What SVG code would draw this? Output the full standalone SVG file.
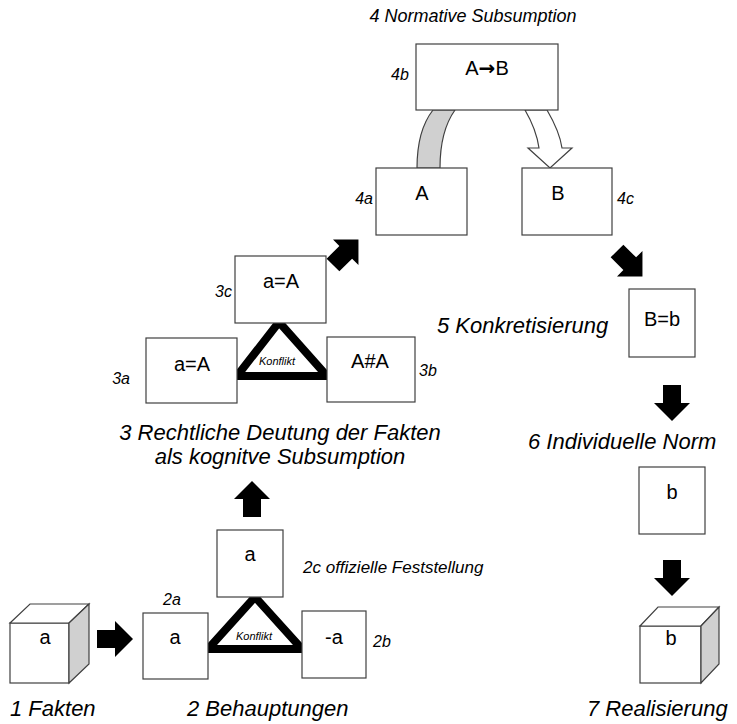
<svg xmlns="http://www.w3.org/2000/svg" xmlns:xlink="http://www.w3.org/1999/xlink" width="737" height="724" viewBox="0 0 737 724">
<defs>
<path id="barrow" d="M0,-9 H18 V-18 L36,0 L18,18 V9 H0 Z" fill="#000"/>
</defs>
<style>
.box{fill:#fff;stroke:#404040;stroke-width:1.2}
.side{fill:#d0d0d0;stroke:#404040;stroke-width:1.2}
.bt{font-family:"Liberation Sans",Arial,sans-serif;font-size:20px;fill:#000;text-anchor:middle}
.cap{font-family:"Liberation Sans",Arial,sans-serif;font-size:22px;font-style:italic;fill:#000}
.lbl{font-family:"Liberation Sans",Arial,sans-serif;font-size:16px;font-style:italic;fill:#000}
.kon{font-family:"Liberation Sans",Arial,sans-serif;font-size:11px;font-style:italic;fill:#000;text-anchor:middle}
.tri{fill:#fff;stroke:#000;stroke-width:8;stroke-linejoin:miter}
</style>
<rect width="737" height="724" fill="#fff"/>

<g id="connectors">
<use xlink:href="#barrow" href="#barrow" transform="translate(97,639)"/>
<use xlink:href="#barrow" href="#barrow" transform="translate(252,517) rotate(-90)"/>
<use xlink:href="#barrow" href="#barrow" transform="translate(333,265) rotate(-45)"/>
<use xlink:href="#barrow" href="#barrow" transform="translate(617,251) rotate(45)"/>
<use xlink:href="#barrow" href="#barrow" transform="translate(672,385) rotate(90)"/>
<use xlink:href="#barrow" href="#barrow" transform="translate(672,560) rotate(90)"/>
<path d="M417,168 C417,142 422,124 433,110 L455,110 C445,124 440,142 440,168 Z" class="side"/>
<path d="M525,110 C532,122 537,134 539,148 L528,148 L550,168 L572,148 L562,148 C560,134 554,122 547,110 Z" class="box"/>
<path class="tri" d="M208,649 L302,649 L255,597 Z"/>
<path class="tri" d="M237,376 L327,376 L279,322 Z"/>
</g>

<text x="473" y="22" class="cap" style="font-size:18px" text-anchor="middle">4 Normative Subsumption</text>

<g id="n4b">
<rect x="416" y="44" width="142" height="66" class="box"/>
<text x="487" y="75" class="bt">A<tspan style="font-family:'DejaVu Sans',sans-serif;font-weight:bold">→</tspan>B</text>
<text x="400" y="80" class="lbl" text-anchor="middle">4b</text>
</g>
<g id="n4a">
<rect x="376" y="168" width="91" height="67" class="box"/>
<text x="422" y="200" class="bt">A</text>
<text x="373" y="204" class="lbl" text-anchor="end">4a</text>
</g>
<g id="n4c">
<rect x="522" y="168" width="90" height="67" class="box"/>
<text x="558" y="200" class="bt">B</text>
<text x="617" y="204" class="lbl">4c</text>
</g>

<g id="n3c">
<rect x="235" y="256" width="91" height="67" class="box"/>
<text x="281" y="288" class="bt">a=A</text>
<text x="232" y="297" class="lbl" text-anchor="end">3c</text>
</g>
<g id="n3a">
<rect x="146" y="338" width="91" height="65" class="box"/>
<text x="192" y="371" class="bt">a=A</text>
<text x="130" y="384" class="lbl" text-anchor="end">3a</text>
</g>
<g id="n3b">
<rect x="327" y="337" width="88" height="65" class="box"/>
<text x="370" y="368" class="bt">A#A</text>
<text x="419" y="376" class="lbl">3b</text>
</g>
<text x="277" y="365" class="kon">Konflikt</text>

<text x="280" y="440" class="cap" text-anchor="middle">3 Rechtliche Deutung der Fakten</text>
<text x="280" y="464" class="cap" text-anchor="middle">als kognitve Subsumption</text>

<g id="n2c">
<rect x="217" y="530" width="66" height="67" class="box"/>
<text x="250" y="561" class="bt">a</text>
<text x="303" y="573" class="lbl" style="font-size:17px">2c offizielle Feststellung</text>
</g>
<g id="n2a">
<rect x="143" y="613" width="65" height="66" class="box"/>
<text x="175" y="644" class="bt">a</text>
<text x="163" y="605" class="lbl">2a</text>
</g>
<g id="n2b">
<rect x="302" y="611" width="64" height="67" class="box"/>
<text x="334" y="644" class="bt">-a</text>
<text x="373" y="647" class="lbl">2b</text>
</g>
<text x="254" y="640" class="kon">Konflikt</text>

<g id="n1">
<rect x="10" y="623" width="59" height="60" class="box"/>
<polygon points="10,623 30,604 89,604 69,623" class="box"/>
<polygon points="69,623 89,604 89,664 69,683" class="side"/>
<text x="45" y="644" class="bt">a</text>
</g>
<text x="10" y="716" class="cap">1 Fakten</text>
<text x="187" y="716" class="cap">2 Behauptungen</text>

<g id="n5">
<rect x="629" y="289" width="66" height="68" class="box"/>
<text x="662" y="326" class="bt">B=b</text>
</g>
<text x="437" y="333" class="cap">5 Konkretisierung</text>

<text x="528" y="449" class="cap">6 Individuelle Norm</text>
<g id="n6">
<rect x="639" y="467" width="66" height="67" class="box"/>
<text x="672" y="499" class="bt">b</text>
</g>

<g id="n7">
<rect x="640" y="626" width="61" height="57" class="box"/>
<polygon points="640,626 658,607 719,607 701,626" class="box"/>
<polygon points="701,626 719,607 719,664 701,683" class="side"/>
<text x="671" y="645" class="bt">b</text>
</g>
<text x="587" y="716" class="cap">7 Realisierung</text>
</svg>
